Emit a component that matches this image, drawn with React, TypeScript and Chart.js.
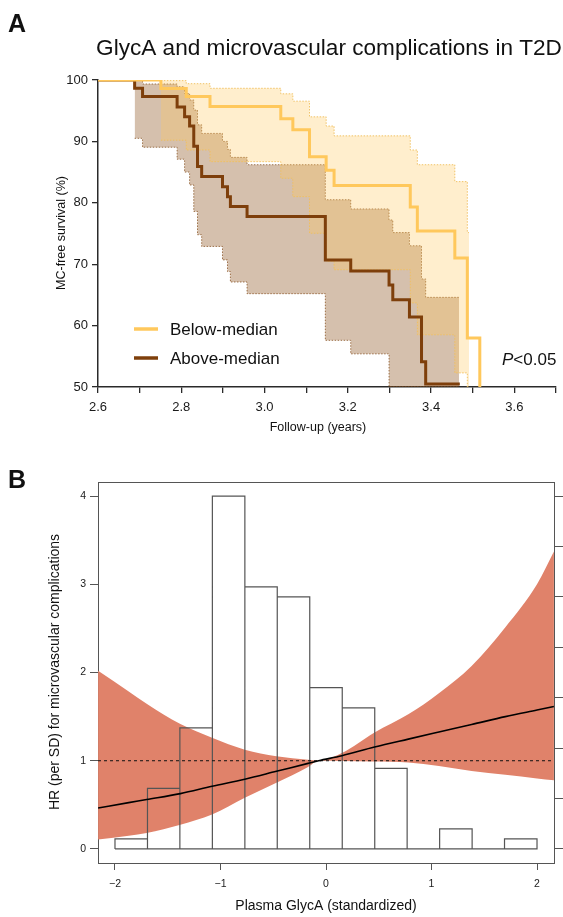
import React, { useEffect, useRef } from 'react';
import { Chart, registerables } from 'chart.js';

Chart.register(...registerables);

const FONT = '"Liberation Sans", Arial, Helvetica, sans-serif';
Chart.defaults.font.family = FONT;
Chart.defaults.color = '#1a1a1a';

// ---------------- Panel A data ----------------
const titleA = 'GlycA and microvascular complications in T2D';
const xTitleA = 'Follow-up (years)';
const yTitleA = 'MC-free survival (%)';
const xTicksA = [2.6, 2.7, 2.8, 2.9, 3.0, 3.1, 3.2, 3.3, 3.4, 3.5, 3.6, 3.7];
const xTickLabelsA = ['2.6', '', '2.8', '', '3.0', '', '3.2', '', '3.4', '', '3.6', ''];
const yTicksA = [50, 60, 70, 80, 90, 100];
const seriesNames = ['Below-median', 'Above-median'];
const pValueText = '<0.05';

// Below-median Kaplan-Meier curve (time, survival %)
const belowTimes = [2.6, 2.751, 2.812, 2.869, 3.039, 3.068, 3.108, 3.148, 3.167, 3.35, 3.367, 3.457, 3.487, 3.517];
const belowSurv = [100, 98.6, 97.3, 95.7, 93.7, 91.9, 87.5, 85.3, 82.8, 79.3, 75.4, 71.0, 58.0, 50];
// Below-median 95% CI
const belowCITimes = [2.751, 2.812, 2.869, 3.039, 3.068, 3.108, 3.148, 3.167, 3.35, 3.367, 3.457, 3.487, 3.491];
const belowCIUpper = [99.9, 99.4, 98.65, 97.75, 96.55, 94.0, 92.5, 90.9, 88.6, 86.2, 83.45, 75.15, 75.15];
const belowCILower = [90.2, 88.6, 86.7, 84.0, 81.0, 75.05, 70.5, 69.1, 63.7, 58.5, 52.3, 50, 50];

// Above-median Kaplan-Meier curve
const aboveTimes = [2.6, 2.688, 2.707, 2.79, 2.808, 2.82, 2.83, 2.839, 2.849, 2.899, 2.911, 2.918, 2.958, 3.146, 3.207, 3.299, 3.308, 3.348, 3.377, 3.387, 3.469];
const aboveSurv = [100, 98.65, 97.3, 95.6, 94.0, 92.5, 89.2, 85.9, 84.3, 82.6, 81.0, 79.4, 77.75, 70.7, 68.9, 66.6, 64.2, 61.4, 54.1, 50.5, 50.5];
// Above-median 95% CI
const aboveCITimes = [2.688, 2.707, 2.79, 2.808, 2.82, 2.83, 2.839, 2.849, 2.899, 2.911, 2.918, 2.958, 3.146, 3.207, 3.299, 3.308, 3.348, 3.377, 3.387, 3.467];
const aboveCIUpper = [100, 99.35, 98.9, 97.8, 96.75, 95.1, 92.7, 91.3, 90.0, 88.7, 87.4, 86.2, 80.5, 79.0, 77.2, 75.15, 73.0, 67.6, 64.6, 64.6];
const aboveCILower = [90.5, 89.05, 87.1, 85.0, 82.9, 78.6, 74.8, 72.9, 70.7, 68.8, 67.1, 65.2, 57.6, 55.4, 50, 50, 50, 50, 50, 50];

// ---------------- Panel B data ----------------
const xTitleB = 'Plasma GlycA (standardized)';
const yTitleB = 'HR (per SD) for microvascular complications';
const xTicksB = [-2, -1, 0, 1, 2];
const xTickLabelsB = ['\u22122', '\u22121', '0', '1', '2'];
const yTicksB = [0, 1, 2, 3, 4];
const countTicksB = [0, 5, 10, 15, 20, 25, 30, 35];
const refHR = 1;

// spline HR curve and its 95% CI
const splineX = [-2.16, -1.87, -1.7, -1.38, -1.08, -0.77, -0.47, -0.17, -0.07, 0.15, 0.46, 0.78, 1.07, 1.38, 1.7, 2.0, 2.16];
const hrValues = [0.464, 0.525, 0.56, 0.627, 0.71, 0.79, 0.88, 0.97, 1.0, 1.057, 1.155, 1.245, 1.325, 1.41, 1.5, 1.575, 1.615];
const hrUpper = [2.02, 1.785, 1.645, 1.415, 1.26, 1.125, 1.05, 1.01, 1.0, 1.087, 1.32, 1.526, 1.766, 2.075, 2.513, 3.0, 3.37];
const hrLower = [0.106, 0.151, 0.18, 0.275, 0.39, 0.58, 0.75, 0.93, 1.0, 0.998, 0.992, 0.98, 0.94, 0.885, 0.84, 0.8, 0.78];

// histogram of standardized GlycA (counts)
const binEdges = [-2, -1.692, -1.385, -1.077, -0.769, -0.462, -0.154, 0.154, 0.462, 0.769, 1.077, 1.385, 1.692, 2.0];
const binCounts = [1, 6, 12, 35, 26, 25, 16, 14, 8, 0, 2, 0, 1];

// axis ranges
const xMinB = -2.161;
const xMaxB = 2.161;
const hrMin = -0.159;
const hrMax = 4.159;
const hrTop = 4;
const countTop = 35;

const YELLOW = '#FFC85C';
const BROWN = '#7E3F0B';
const BAND_RED = '#E0826A';

const pts = (xs: number[], ys: number[]) => xs.map((x, i) => ({ x, y: ys[i] }));

function histogramOutline() {
  const out: { x: number; y: number }[] = [];
  for (let i = 0; i < binCounts.length; i++) {
    out.push({ x: binEdges[i], y: 0 });
    out.push({ x: binEdges[i], y: binCounts[i] });
    out.push({ x: binEdges[i + 1], y: binCounts[i] });
    out.push({ x: binEdges[i + 1], y: 0 });
  }
  out.push({ x: binEdges[0], y: 0 });
  return out;
}

const annotA = {
  id: 'annotA',
  afterDraw(chart: any) {
    const ctx = chart.ctx;
    ctx.save();
    ctx.fillStyle = '#111';
    ctx.textBaseline = 'alphabetic';
    ctx.textAlign = 'left';
    ctx.font = `bold 25px ${FONT}`;
    ctx.fillText('A', 8, 32);
    ctx.font = `22.6px ${FONT}`;
    ctx.textAlign = 'center';
    ctx.fillText(titleA, 329, 55);

    ctx.font = `12.5px ${FONT}`;
    ctx.textBaseline = 'middle';
    ctx.fillText(xTitleA, 318, 428);
    ctx.save();
    ctx.translate(62, 233);
    ctx.rotate(-Math.PI / 2);
    ctx.fillText(yTitleA, 0, 0);
    ctx.restore();

    const colors = [YELLOW, BROWN];
    seriesNames.forEach((name, i) => {
      const y = 329 + i * 29;
      ctx.strokeStyle = colors[i];
      ctx.lineWidth = 3.5;
      ctx.beginPath();
      ctx.moveTo(134, y);
      ctx.lineTo(158, y);
      ctx.stroke();
      ctx.font = `17px ${FONT}`;
      ctx.textAlign = 'left';
      ctx.textBaseline = 'middle';
      ctx.fillText(name, 170, y + 1);
    });

    ctx.textBaseline = 'alphabetic';
    ctx.textAlign = 'left';
    ctx.font = `italic 17px ${FONT}`;
    ctx.fillText('P', 502, 365);
    const w = ctx.measureText('P').width;
    ctx.font = `17px ${FONT}`;
    ctx.fillText(pValueText, 502 + w, 365);
    ctx.restore();
  },
};

const annotB = {
  id: 'annotB',
  afterDraw(chart: any) {
    const ctx = chart.ctx;
    ctx.save();
    ctx.fillStyle = '#111';
    ctx.textAlign = 'left';
    ctx.textBaseline = 'alphabetic';
    ctx.font = `bold 25px ${FONT}`;
    ctx.fillText('B', 8, 48);
    ctx.font = `14px ${FONT}`;
    ctx.textAlign = 'center';
    ctx.textBaseline = 'middle';
    ctx.fillText(xTitleB, 326, 466);
    ctx.save();
    ctx.translate(55, 232);
    ctx.rotate(-Math.PI / 2);
    ctx.fillText(yTitleB, 0, 0);
    ctx.restore();
    ctx.restore();
  },
};

export default function App() {
  const refA = useRef<HTMLCanvasElement>(null);
  const refB = useRef<HTMLCanvasElement>(null);

  useEffect(() => {
    const axisColor = '#2a2a2a';
    const bandStyle = (color: string) => ({
      borderColor: color,
      borderWidth: 1,
      borderDash: [1.5, 1.5],
      stepped: 'before' as const,
      pointRadius: 0,
    });
    const chartA = new Chart(refA.current as HTMLCanvasElement, {
      type: 'line',
      data: {
        datasets: [
          {
            data: pts(belowTimes, belowSurv),
            borderColor: YELLOW,
            borderWidth: 3,
            stepped: 'before',
            fill: false,
            pointRadius: 0,
            borderJoinStyle: 'miter',
          },
          {
            data: pts(aboveTimes, aboveSurv),
            borderColor: BROWN,
            borderWidth: 3,
            stepped: 'before',
            fill: false,
            pointRadius: 0,
            borderJoinStyle: 'miter',
          },
          {
            data: pts(belowCITimes, belowCIUpper),
            ...bandStyle('rgba(240,190,90,0.9)'),
            fill: '+1',
            backgroundColor: 'rgba(255,200,90,0.3)',
          },
          {
            data: pts(belowCITimes, belowCILower),
            ...bandStyle('rgba(240,190,90,0.9)'),
            fill: false,
          },
          {
            data: pts(aboveCITimes, aboveCIUpper),
            ...bandStyle('rgba(140,90,45,0.8)'),
            fill: '+1',
            backgroundColor: 'rgba(126,63,7,0.33)',
          },
          {
            data: pts(aboveCITimes, aboveCILower),
            ...bandStyle('rgba(140,90,45,0.8)'),
            fill: false,
          },
        ] as any,
      },
      options: {
        animation: false,
        responsive: false,
        maintainAspectRatio: false,
        events: [],
        layout: { padding: { top: 80, right: 3, left: 0, bottom: 0 } },
        plugins: { legend: { display: false }, tooltip: { enabled: false } },
        scales: {
          x: {
            type: 'linear',
            min: 2.6,
            max: 3.7,
            afterBuildTicks: (s: any) => {
              s.ticks = xTicksA.map((v) => ({ value: v }));
            },
            afterFit: (s: any) => {
              s.height = 53;
            },
            grid: { drawOnChartArea: false, drawTicks: true, tickLength: 6, color: axisColor, lineWidth: 1.3 },
            border: { display: true, color: axisColor, width: 1.5 },
            ticks: {
              autoSkip: false,
              maxRotation: 0,
              padding: 7,
              font: { size: 13 },
              color: '#1a1a1a',
              callback: (_v: any, i: number) => xTickLabelsA[i],
            },
          },
          y: {
            type: 'linear',
            min: 50,
            max: 100,
            afterBuildTicks: (s: any) => {
              s.ticks = yTicksA.map((v) => ({ value: v }));
            },
            afterFit: (s: any) => {
              s.width = 98;
            },
            grid: { drawOnChartArea: false, drawTicks: true, tickLength: 6, color: axisColor, lineWidth: 1.3 },
            border: { display: true, color: axisColor, width: 1.5 },
            ticks: { padding: 4, font: { size: 13 }, color: '#1a1a1a' },
          },
        },
      } as any,
      plugins: [annotA],
    });

    const frameColor = '#555';
    const chartB = new Chart(refB.current as HTMLCanvasElement, {
      type: 'line',
      data: {
        datasets: [
          {
            data: pts(splineX, hrValues),
            borderColor: '#000',
            borderWidth: 1.6,
            cubicInterpolationMode: 'monotone',
            fill: false,
            pointRadius: 0,
            xAxisID: 'x',
            yAxisID: 'y',
          },
          {
            data: [
              { x: xMinB, y: refHR },
              { x: xMaxB, y: refHR },
            ],
            borderColor: '#111',
            borderWidth: 1,
            borderDash: [3, 3],
            fill: false,
            pointRadius: 0,
            xAxisID: 'x',
            yAxisID: 'y',
          },
          {
            data: histogramOutline(),
            borderColor: '#555',
            borderWidth: 1.2,
            fill: false,
            pointRadius: 0,
            tension: 0,
            borderJoinStyle: 'miter',
            xAxisID: 'x',
            yAxisID: 'yCount',
          },
          {
            data: pts(splineX, hrUpper),
            borderColor: 'rgba(0,0,0,0)',
            borderWidth: 0,
            backgroundColor: BAND_RED,
            cubicInterpolationMode: 'monotone',
            fill: '+1',
            pointRadius: 0,
            xAxisID: 'x',
            yAxisID: 'y',
          },
          {
            data: pts(splineX, hrLower),
            borderColor: 'rgba(0,0,0,0)',
            borderWidth: 0,
            cubicInterpolationMode: 'monotone',
            fill: false,
            pointRadius: 0,
            xAxisID: 'x',
            yAxisID: 'y',
          },
        ] as any,
      },
      options: {
        animation: false,
        responsive: false,
        maintainAspectRatio: false,
        events: [],
        layout: { padding: { top: 42, right: 0, left: 0, bottom: 0 } },
        plugins: { legend: { display: false }, tooltip: { enabled: false } },
        scales: {
          x: {
            type: 'linear',
            axis: 'x',
            position: 'bottom',
            min: xMinB,
            max: xMaxB,
            afterBuildTicks: (s: any) => {
              s.ticks = xTicksB.map((v) => ({ value: v }));
            },
            afterFit: (s: any) => {
              s.height = 54;
            },
            grid: { drawOnChartArea: false, drawTicks: true, tickLength: 7, color: frameColor, lineWidth: 1 },
            border: { display: true, color: frameColor, width: 1 },
            ticks: {
              autoSkip: false,
              maxRotation: 0,
              padding: 8,
              font: { size: 10.5 },
              color: '#1a1a1a',
              callback: (_v: any, i: number) => xTickLabelsB[i],
            },
          },
          xTop: {
            type: 'linear',
            axis: 'x',
            position: 'top',
            min: xMinB,
            max: xMaxB,
            afterFit: (s: any) => {
              s.height = 0;
            },
            grid: { display: false, drawTicks: false },
            border: { display: true, color: frameColor, width: 1 },
            ticks: { display: false },
          },
          y: {
            type: 'linear',
            axis: 'y',
            position: 'left',
            min: hrMin,
            max: hrMax,
            afterBuildTicks: (s: any) => {
              s.ticks = yTicksB.map((v) => ({ value: v }));
            },
            afterFit: (s: any) => {
              s.width = 98;
            },
            grid: { drawOnChartArea: false, drawTicks: true, tickLength: 8, color: frameColor, lineWidth: 1 },
            border: { display: true, color: frameColor, width: 1 },
            ticks: { padding: 4, font: { size: 10.5 }, color: '#1a1a1a' },
          },
          yCount: {
            type: 'linear',
            axis: 'y',
            position: 'right',
            min: (hrMin * countTop) / hrTop,
            max: (hrMax * countTop) / hrTop,
            afterBuildTicks: (s: any) => {
              s.ticks = countTicksB.map((v) => ({ value: v }));
            },
            afterFit: (s: any) => {
              s.width = 9;
            },
            grid: { drawOnChartArea: false, drawTicks: true, tickLength: 9, color: frameColor, lineWidth: 1 },
            border: { display: true, color: frameColor, width: 1 },
            ticks: { callback: () => '', padding: 0 },
          },
        },
      } as any,
      plugins: [annotB],
    });

    return () => {
      chartA.destroy();
      chartB.destroy();
    };
  }, []);

  return (
    <div style={{ position: 'absolute', left: 0, top: 0, width: 563, height: 917, background: '#fff' }}>
      <canvas
        ref={refA}
        width={563}
        height={440}
        style={{ position: 'absolute', left: 0, top: 0, width: 563, height: 440 }}
      />
      <canvas
        ref={refB}
        width={563}
        height={477}
        style={{ position: 'absolute', left: 0, top: 440, width: 563, height: 477 }}
      />
    </div>
  );
}
